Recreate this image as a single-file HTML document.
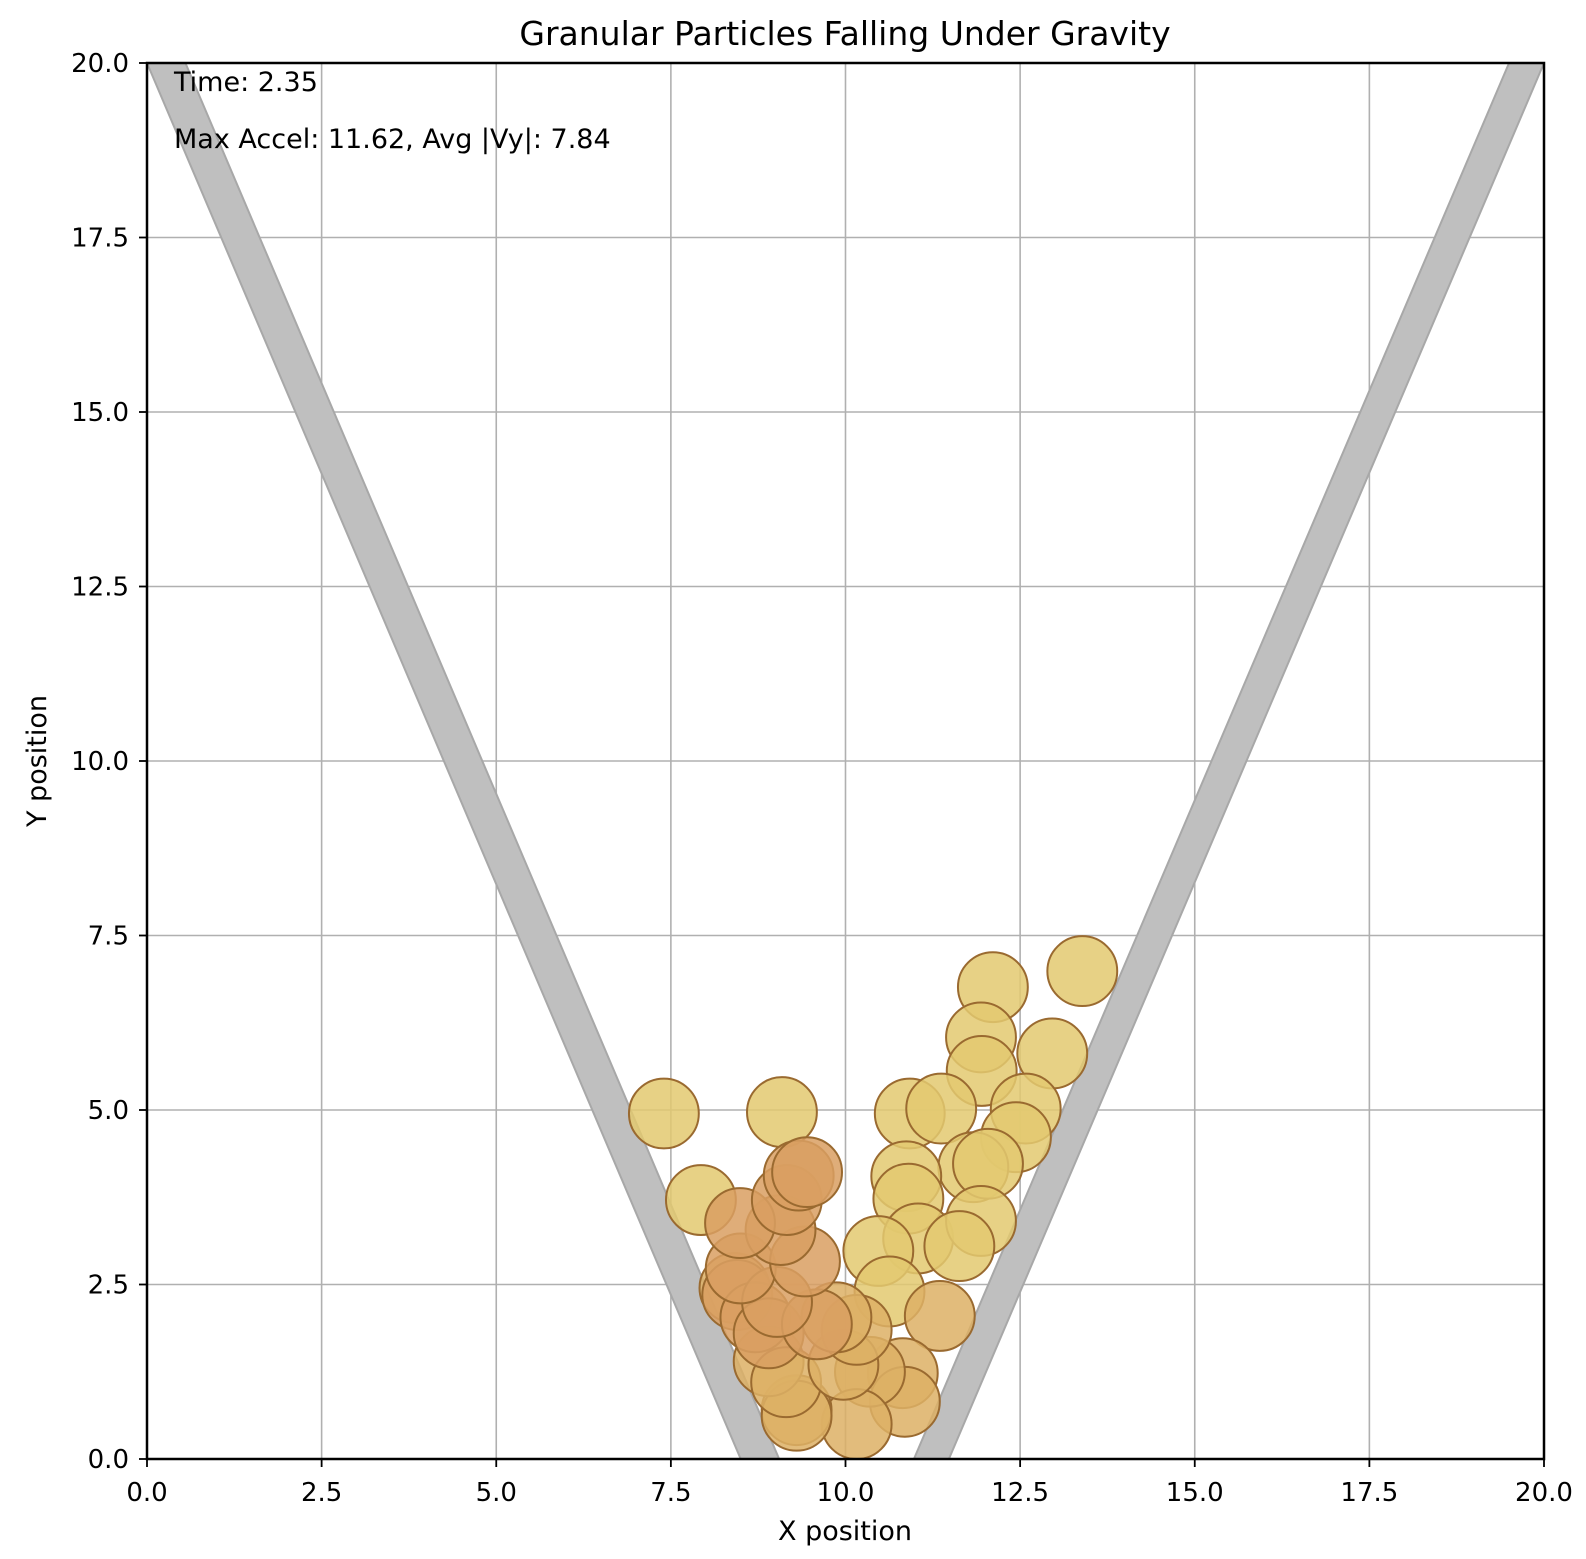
<!DOCTYPE html>
<html><head><meta charset="utf-8"><style>
body{margin:0;background:#fff;}
svg text{font-family:"DejaVu Sans","Liberation Sans",sans-serif;fill:#000;}
</style></head><body>
<svg id="chart" width="1586" height="1554" xmlns="http://www.w3.org/2000/svg">
<rect width="1586" height="1554" fill="#fff"/>
<text x="845" y="45" font-size="33" text-anchor="middle">Granular Particles Falling Under Gravity</text>
<g id="grid"></g>
<g id="walls" clip-path="url(#clip)"></g>
<defs><clipPath id="clip"><rect x="147" y="63" width="1397" height="1396"/></clipPath></defs>
<g id="particles" clip-path="url(#clip)"></g>
<rect x="147" y="63" width="1397" height="1396" fill="none" stroke="#000" stroke-width="2.5"/>
<g id="ticks"></g>
<text x="174" y="91" font-size="27">Time: 2.35</text>
<text x="174" y="148" font-size="27">Max Accel: 11.62, Avg |Vy|: 7.84</text>
<text x="845" y="1540" font-size="27" text-anchor="middle">X position</text>
<text x="46" y="761" font-size="27" text-anchor="middle" transform="rotate(-90 46 761)">Y position</text>
</svg>
<script>
const xTicks=[0,2.5,5,7.5,10,12.5,15,17.5,20];
const yTicks=[0,2.5,5,7.5,10,12.5,15,17.5,20];
const px=[7.40,9.09,12.11,13.39,11.94,12.96,11.95,10.92,11.37,12.58,12.44,11.83,12.04,10.87,10.90,11.04,11.94,11.63,10.47,10.63,11.35,10.82,10.85,10.35,10.16,9.30,9.30,8.90,9.15,9.97,10.16,9.87,7.93,8.41,8.45,8.71,8.90,9.59,9.02,8.50,9.42,9.07,8.49,9.16,9.33,9.45];
const py=[4.95,4.97,6.76,6.99,6.04,5.81,5.56,4.95,5.02,5.02,4.61,4.18,4.23,4.05,3.73,3.16,3.41,3.05,2.98,2.40,2.05,1.23,0.82,1.25,0.50,0.70,0.62,1.40,1.10,1.35,1.85,2.03,3.71,2.45,2.35,2.03,1.80,1.93,2.25,2.73,2.83,3.28,3.38,3.71,4.06,4.11];
const pc=['y','y','y','y','y','y','y','y','y','y','y','y','y','y','y','y','y','y','y','y','m','m','m','m','m','m','m','m','m','m','m','m','y','m','o','o','o','o','o','o','o','o','o','o','o','o'];
const radius=0.5;
const X=v=>147+v*69.85, Y=v=>1459-v*69.8;
const ns='http://www.w3.org/2000/svg';
function mk(t,a,p){const e=document.createElementNS(ns,t);for(const k in a)e.setAttribute(k,a[k]);p.appendChild(e);return e;}
const grid=document.getElementById('grid'),ticks=document.getElementById('ticks');
xTicks.forEach(v=>{
 const g=mk('line',{x1:X(v),x2:X(v),y1:63,y2:1459,stroke:'#b0b0b0','stroke-width':1.6},grid);
 
 
 const t=mk('line',{x1:X(v),x2:X(v),y1:1459,y2:1467,stroke:'#000','stroke-width':1.8},ticks);
 
 
 const l=mk('text',{x:X(v),y:1501,'font-size':26,'text-anchor':'middle'},ticks);l.textContent=v.toFixed(1);
 
 
});
yTicks.forEach(v=>{
 const g=mk('line',{x1:147,x2:1544,y1:Y(v),y2:Y(v),stroke:'#b0b0b0','stroke-width':1.6},grid);
 
 
 const t=mk('line',{x1:139,x2:147,y1:Y(v),y2:Y(v),stroke:'#000','stroke-width':1.8},ticks);
 
 
 const l=mk('text',{x:129,y:Y(v)+9,'font-size':26,'text-anchor':'end'},ticks);l.textContent=v.toFixed(1);
 
 
});
const walls=document.getElementById('walls');
const lw=mk('polygon',{points:`${X(0)},${Y(20)} ${X(0.55)},${Y(20)} ${X(9.05)},${Y(0)} ${X(8.5)},${Y(0)}`,fill:'#bfbfbf',stroke:'#a8a8a8','stroke-width':2},walls);


const rw=mk('polygon',{points:`${X(19.5)},${Y(20)} ${X(20)},${Y(20)} ${X(11.48)},${Y(0)} ${X(10.98)},${Y(0)}`,fill:'#bfbfbf',stroke:'#a8a8a8','stroke-width':2},walls);


const cols={y:'#e3c970',m:'#ddb065',o:'#d99f62'};
const part=document.getElementById('particles');
px.forEach((v,i)=>{
 const c=mk('circle',{cx:X(v),cy:Y(py[i]),r:radius*69.85,fill:cols[pc[i]],'fill-opacity':0.85,stroke:'#9a6a30','stroke-width':2},part);
 
 
});
</script>
</body></html>
